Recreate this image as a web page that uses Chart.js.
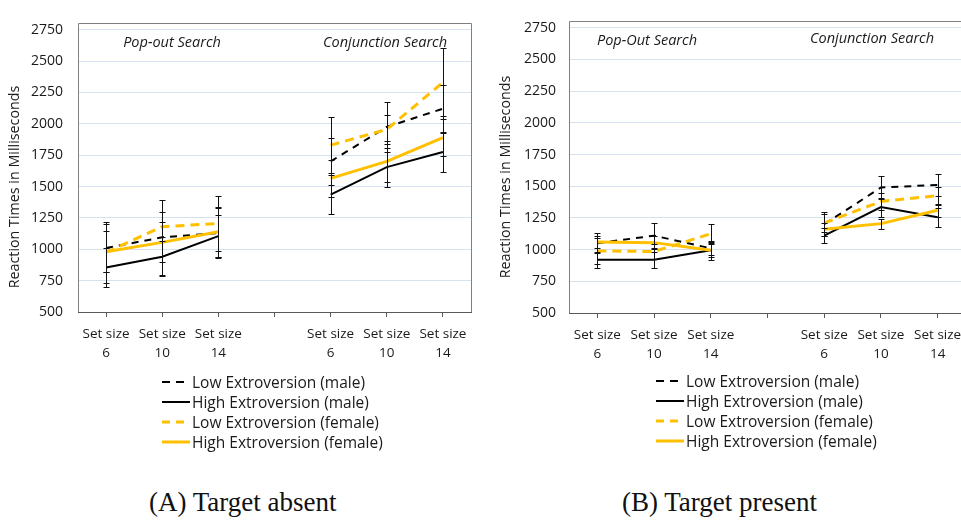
<!DOCTYPE html>
<html lang="en">
<head>
  <meta charset="UTF-8" />
  <title>Reaction times - target absent / present</title>
  <script src="https://cdn.jsdelivr.net/npm/chart.js"></script>
  <style>
    html, body { margin: 0; padding: 0; background: #fff; overflow: hidden; }
    body { width: 961px; height: 521px; position: relative; font-family: "Open Sans", sans-serif; color: #1a1a1a; }
    canvas { position: absolute; top: 0; }
    #chartA { left: 0; }
    #chartB { left: 490px; }
    .legend { position: absolute; font-size: 15.5px; line-height: 20px; }
    .legend div { height: 20px; display: flex; align-items: center; white-space: nowrap; }
    .legend svg { margin-right: 2px; }
    .caption { position: absolute; top: 487px; font-family: "Liberation Serif", "Times New Roman", serif; font-size: 27px; color: #111; }
  </style>
</head>
<body>

<canvas id="chartA" width="480" height="372"></canvas>
<canvas id="chartB" width="480" height="373"></canvas>

<div class="legend" id="legendA" style="left:162px; top:372px;"></div>
<div class="legend" id="legendB" style="left:656px; top:371px;"></div>

<div class="caption" style="left:149px;">(A) Target absent</div>
<div class="caption" style="left:622px;">(B) Target present</div>

<script>
  // x categories (middle slot is the gap between the two search types)
  const categories = [["Set size", "6"], ["Set size", "10"], ["Set size", "14"], "",
                      ["Set size", "6"], ["Set size", "10"], ["Set size", "14"]];
  const seriesNames = ["Low Extroversion (male)", "High Extroversion (male)",
                       "Low Extroversion (female)", "High Extroversion (female)"];
  const yTicks = [500, 750, 1000, 1250, 1500, 1750, 2000, 2250, 2500, 2750];

  // (A) Target absent - mean RTs
  const absentLowMale     = [1010, 1095, 1130, null, 1700, 1975, 2120];
  const absentHighMale    = [855, 940, 1105, null, 1435, 1655, 1775];
  const absentLowFemale   = [975, 1180, 1205, null, 1830, 1955, 2330];
  const absentHighFemale  = [980, 1055, 1140, null, 1565, 1700, 1890];
  // (A) error bar half-widths
  const absentLowMaleErr    = [190, 300, 200, null, 190, 200, 190];
  const absentHighMaleErr   = [155, 155, 165, null, 155, 155, 160];
  const absentLowFemaleErr  = [240, 115, 220, null, 225, 115, 270];
  const absentHighFemaleErr = [165, 160, 200, null, 150, 160, 150];

  // (B) Target present - mean RTs
  const presentLowMale    = [1050, 1110, 1010, null, 1200, 1490, 1510];
  const presentHighMale   = [920, 920, 995, null, 1110, 1335, 1255];
  const presentLowFemale  = [990, 985, 1125, null, 1210, 1380, 1425];
  const presentHighFemale = [1060, 1055, 995, null, 1160, 1205, 1310];
  // (B) error bar half-widths
  const presentLowMaleErr    = [80, 100, 50, null, 95, 90, 90];
  const presentHighMaleErr   = [65, 65, 75, null, 60, 75, 75];
  const presentLowFemaleErr  = [105, 60, 80, null, 70, 70, 70];
  const presentHighFemaleErr = [50, 50, 55, null, 50, 40, 50];

  const lineColors = ["#000000", "#000000", "#FFC000", "#FFC000"];
  const lineWidths = [2, 2, 3, 3];
  const lineDashes = [[7, 6], [], [9, 6], []];
  const drawOrder = [2, 2, 1, 1];

  // draws frame, error bars, y title and the in-plot labels
  const extras = {
    id: "extras",
    afterDatasetsDraw(chart, args, opts) {
      const ctx = chart.ctx;
      const y = chart.scales.y;
      ctx.save();
      ctx.strokeStyle = "#111";
      ctx.lineWidth = 1;
      chart.data.datasets.forEach((ds, i) => {
        const meta = chart.getDatasetMeta(i);
        ds.errors.forEach((e, j) => {
          if (e == null || ds.data[j] == null) return;
          const px = Math.round(meta.data[j].x) + 0.5;
          const top = Math.round(y.getPixelForValue(ds.data[j] + e)) + 0.5;
          const bot = Math.round(y.getPixelForValue(ds.data[j] - e)) + 0.5;
          ctx.beginPath();
          ctx.moveTo(px, top); ctx.lineTo(px, bot);
          ctx.moveTo(px - 3, top); ctx.lineTo(px + 3, top);
          ctx.moveTo(px - 3, bot); ctx.lineTo(px + 3, bot);
          ctx.stroke();
        });
      });
      ctx.restore();
    },
    afterDraw(chart, args, opts) {
      const ctx = chart.ctx;
      const a = chart.chartArea;
      ctx.save();
      ctx.strokeStyle = "#7f7f7f";
      ctx.lineWidth = 1;
      ctx.beginPath();
      ctx.moveTo(Math.round(a.left) + 0.5, Math.round(a.bottom));
      ctx.lineTo(Math.round(a.left) + 0.5, Math.round(a.top) + 0.5);
      ctx.lineTo(Math.round(a.right) + 0.5, Math.round(a.top) + 0.5);
      ctx.lineTo(Math.round(a.right) + 0.5, Math.round(a.bottom));
      ctx.stroke();

      ctx.fillStyle = "#1a1a1a";
      ctx.font = "14.3px 'Open Sans'";
      ctx.textAlign = "center";
      ctx.textBaseline = "middle";
      ctx.translate(opts.titleX, opts.titleY);
      ctx.rotate(-Math.PI / 2);
      ctx.fillText("Reaction Times in Milliseconds", 0, 0);
      ctx.setTransform(1, 0, 0, 1, 0, 0);

      ctx.font = "italic 14.5px 'Open Sans'";
      opts.labels.forEach(l => ctx.fillText(l.text, l.x, l.y));
      ctx.restore();
    }
  };

  function makeChart(id, series, errs, cfg) {
    const datasets = series.map((data, i) => ({
      label: seriesNames[i],
      data: data,
      errors: errs[i],
      borderColor: lineColors[i],
      borderWidth: lineWidths[i],
      borderDash: lineDashes[i],
      pointRadius: 0,
      fill: false,
      tension: 0,
      order: drawOrder[i]
    }));

    return new Chart(document.getElementById(id), {
      type: "line",
      data: { labels: categories, datasets: datasets },
      options: {
        responsive: false,
        animation: false,
        layout: { padding: { top: cfg.padTop, right: cfg.padRight, left: 0, bottom: 0 } },
        plugins: {
          legend: { display: false },
          tooltip: { enabled: false },
          extras: { titleX: cfg.titleX, titleY: cfg.titleY, labels: cfg.labels }
        },
        scales: {
          x: {
            offset: true,
            grid: { display: true, drawOnChartArea: false, drawTicks: true, tickLength: 5, color: "#595959" },
            border: { display: true, color: "#595959" },
            ticks: { padding: 8, color: "#1a1a1a", font: { family: "Open Sans", size: 13.5, lineHeight: 1.4 }, maxRotation: 0, autoSkip: false },
            afterFit: s => { s.height = cfg.xHeight; }
          },
          y: {
            min: 500,
            max: 2800,
            grid: { color: "#d5e3f0", drawTicks: false },
            border: { display: false },
            ticks: { stepSize: 250, padding: cfg.tickPad, color: "#1a1a1a", font: { family: "Open Sans", size: 14 },
                     callback: v => String(v) },
            afterBuildTicks: s => { s.ticks = yTicks.map(v => ({ value: v })); },
            afterFit: s => { s.width = cfg.yWidth; }
          }
        }
      },
      plugins: [extras]
    });
  }

  makeChart("chartA",
    [absentLowMale, absentHighMale, absentLowFemale, absentHighFemale],
    [absentLowMaleErr, absentHighMaleErr, absentLowFemaleErr, absentHighFemaleErr],
    { padTop: 9, padRight: 9, yWidth: 78, xHeight: 60, tickPad: 15, titleX: 15, titleY: 187,
      labels: [{ text: "Pop-out Search", x: 172, y: 43 }, { text: "Conjunction Search", x: 385, y: 43 }] });

  makeChart("chartB",
    [presentLowMale, presentHighMale, presentLowFemale, presentHighFemale],
    [presentLowMaleErr, presentHighMaleErr, presentLowFemaleErr, presentHighFemaleErr],
    { padTop: 10, padRight: 4, yWidth: 79, xHeight: 60, tickPad: 13, titleX: 16, titleY: 177,
      labels: [{ text: "Pop-Out Search", x: 157, y: 41 }, { text: "Conjunction Search", x: 382, y: 39 }] });

  // HTML legends with little line samples
  function buildLegend(id) {
    const box = document.getElementById(id);
    seriesNames.forEach((name, i) => {
      const row = document.createElement("div");
      const dash = lineDashes[i].length ? `stroke-dasharray="8 6"` : "";
      row.innerHTML = `<svg width="28" height="6"><line x1="0" y1="3" x2="28" y2="3" stroke="${lineColors[i]}" stroke-width="${i < 2 ? 2 : 3}" ${dash}/></svg>${name}`;
      box.appendChild(row);
    });
  }
  buildLegend("legendA");
  buildLegend("legendB");
</script>

</body>
</html>
